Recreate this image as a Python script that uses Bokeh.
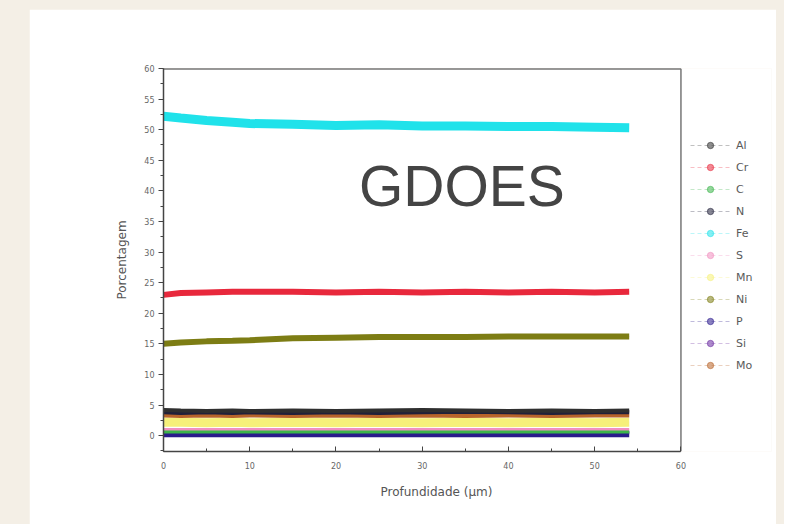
from bokeh.plotting import figure
from bokeh.models import Label, Legend, LegendItem, Range1d, SingleIntervalTicker, Title
from bokeh.layouts import column
from bokeh.embed import file_html
from bokeh.resources import INLINE

# depth positions (µm) at which values were read
depth = [0, 2, 5, 8, 10, 15, 20, 25, 30, 35, 40, 45, 50, 54]

elements = ["Al", "Cr", "C", "N", "Fe", "S", "Mn", "Ni", "P", "Si", "Mo"]
al = [4.2, 4.1, 4.0, 4.1, 4.0, 4.1, 4.0, 4.1, 4.2, 4.1, 4.0, 4.1, 4.0, 4.1]
cr = [23.0, 23.3, 23.4, 23.5, 23.5, 23.5, 23.4, 23.5, 23.4, 23.5, 23.4, 23.5, 23.4, 23.5]
c = [0.6, 0.6, 0.6, 0.6, 0.6, 0.6, 0.6, 0.6, 0.6, 0.6, 0.6, 0.6, 0.6, 0.6]
n = [3.8, 3.7, 3.8, 3.7, 3.8, 3.7, 3.8, 3.7, 3.8, 3.9, 3.8, 3.7, 3.8, 3.8]
fe = [52.2, 51.9, 51.5, 51.2, 51.0, 50.9, 50.7, 50.8, 50.6, 50.6, 50.5, 50.5, 50.4, 50.3]
s = [1.0, 1.0, 1.0, 1.0, 1.0, 1.0, 1.0, 1.0, 1.0, 1.0, 1.0, 1.0, 1.0, 1.0]
mn = [2.2, 2.2, 2.1, 2.2, 2.1, 2.2, 2.1, 2.2, 2.1, 2.2, 2.1, 2.2, 2.1, 2.2]
ni = [15.0, 15.2, 15.4, 15.5, 15.6, 15.9, 16.0, 16.1, 16.1, 16.1, 16.2, 16.2, 16.2, 16.2]
p_el = [0.2, 0.2, 0.2, 0.2, 0.2, 0.2, 0.2, 0.2, 0.2, 0.2, 0.2, 0.2, 0.2, 0.2]
si = [0.5, 0.5, 0.5, 0.5, 0.5, 0.5, 0.5, 0.5, 0.5, 0.5, 0.5, 0.5, 0.5, 0.5]
mo = [3.3, 3.2, 3.3, 3.2, 3.3, 3.2, 3.3, 3.2, 3.3, 3.2, 3.3, 3.2, 3.3, 3.3]

series = [al, cr, c, n, fe, s, mn, ni, p_el, si, mo]
colors = ["#2f2f2f", "#e8283c", "#3cb44b", "#20203a", "#20e2ea", "#f090c0",
          "#f6f07a", "#7d7d14", "#2a1a8c", "#6a2aa0", "#b8642a"]
widths = [4, 6, 3, 4, 9, 3, 9, 6, 6, 3, 4]

X_MIN, X_MAX = 0, 60
Y_MIN, Y_MAX = -2.6, 60

p = figure(frame_width=608, frame_height=383,
           min_border_left=134, min_border_right=5,
           min_border_top=59, min_border_bottom=73,
           x_range=Range1d(X_MIN, 70.5), y_range=Range1d(Y_MIN, Y_MAX),
           output_backend="svg", toolbar_location=None,
           background_fill_color="white", border_fill_color="white")
p.margin = (9, 8, 0, 29)
p.grid.visible = False
p.outline_line_color = None

# plot box: top and right edges
p.segment(x0=[X_MIN, X_MAX], y0=[Y_MAX, Y_MIN], x1=[X_MAX, X_MAX], y1=[Y_MAX, Y_MAX],
          line_color=["#333333", "#777777"], line_width=[2, 1.5])

# legend style proxies (thin dashed line + small marker), drawn underneath the bands
proxies = []
for i in range(len(elements)):
    lr = p.line(depth, series[i], line_color=colors[i], line_width=1,
                line_dash="4 3", line_alpha=0.3)
    sr = p.scatter(depth[:1], series[i][:1], marker="circle", size=2.5,
                   fill_color=colors[i], line_color=colors[i], alpha=0.55)
    proxies.append((lr, sr))

order = [4, 1, 7, 6, 9, 8, 5, 2, 10, 3, 0]
for i in order:
    p.line(depth, series[i], line_color=colors[i], line_width=widths[i], line_alpha=1.0)

items = [LegendItem(label=name, renderers=list(proxies[i]), index=0)
         for i, name in enumerate(elements)]

legend = Legend(items=items, location=(527, 78), orientation="vertical",
                glyph_width=40, glyph_height=16, spacing=6, padding=0, margin=0,
                label_standoff=6, label_text_font="DejaVu Sans",
                label_text_font_size="11px", label_text_color="#5a5a5a",
                border_line_color=None, background_fill_alpha=0)
p.add_layout(legend, "center")

p.xaxis.ticker = SingleIntervalTicker(interval=10, num_minor_ticks=2)
p.yaxis.ticker = SingleIntervalTicker(interval=5, num_minor_ticks=2)
p.xaxis.bounds = (X_MIN, X_MAX)
for ax in (p.xaxis[0], p.yaxis[0]):
    ax.axis_line_color = "#444444"
    ax.axis_line_width = 1.5
    ax.major_tick_line_color = "#444444"
    ax.minor_tick_line_color = "#444444"
    ax.major_label_text_font = "DejaVu Sans"
    ax.major_label_text_font_size = "8px"
    ax.major_label_text_color = "#666666"
    ax.axis_label_text_font = "DejaVu Sans"
    ax.axis_label_text_font_size = "12px"
    ax.axis_label_text_font_style = "normal"
    ax.axis_label_text_color = "#555555"

p.xaxis.major_tick_in = 5
p.xaxis.major_tick_out = 0
p.xaxis.minor_tick_in = 3
p.xaxis.minor_tick_out = 0
p.xaxis.major_label_standoff = 10

p.yaxis.major_tick_in = 0
p.yaxis.major_tick_out = 5
p.yaxis.minor_tick_in = 0
p.yaxis.minor_tick_out = 3
p.yaxis.major_label_standoff = 4
p.yaxis.axis_label = "Porcentagem"
p.yaxis.axis_label_standoff = 12

xlabel = Title(text="Profundidade (µm)", align="left", offset=217, standoff=22,
               text_font="DejaVu Sans", text_font_size="12px", text_font_style="normal",
               text_color="#555555")
p.add_layout(xlabel, "below")

title = Label(x=34.6, y=40.8, text="GDOES", text_align="center", text_baseline="middle",
              text_font="Liberation Sans", text_font_size="57px", text_color="#444444")
p.add_layout(title)

page = column(p, styles={"background-color": "#f4efe6"})
open("out.html", "w").write(file_html(page, INLINE))
